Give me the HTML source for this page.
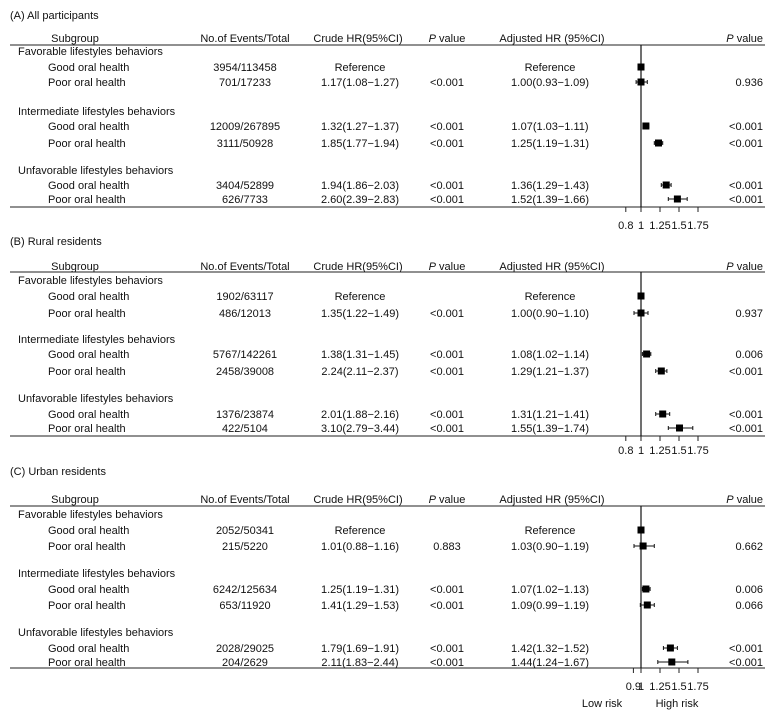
<!DOCTYPE html>
<html><head><meta charset="utf-8"><style>
body{margin:0;background:#fff}
svg text{font-family:"Liberation Sans",Arial,sans-serif;font-size:11px;fill:#111}
</style></head><body>
<svg id="c" width="781" height="713"></svg>
<script>
const panels=["(A) All participants","(B) Rural residents","(C) Urban residents"];
const groups=["Favorable lifestyles behaviors","Intermediate lifestyles behaviors","Unfavorable lifestyles behaviors"];
const events=[["3954/113458","701/17233","12009/267895","3111/50928","3404/52899","626/7733"],
["1902/63117","486/12013","5767/142261","2458/39008","1376/23874","422/5104"],
["2052/50341","215/5220","6242/125634","653/11920","2028/29025","204/2629"]];
const crude=[["Reference","1.17(1.08−1.27)","1.32(1.27−1.37)","1.85(1.77−1.94)","1.94(1.86−2.03)","2.60(2.39−2.83)"],
["Reference","1.35(1.22−1.49)","1.38(1.31−1.45)","2.24(2.11−2.37)","2.01(1.88−2.16)","3.10(2.79−3.44)"],
["Reference","1.01(0.88−1.16)","1.25(1.19−1.31)","1.41(1.29−1.53)","1.79(1.69−1.91)","2.11(1.83−2.44)"]];
const crudeP=[["","<0.001","<0.001","<0.001","<0.001","<0.001"],["","<0.001","<0.001","<0.001","<0.001","<0.001"],["","0.883","<0.001","<0.001","<0.001","<0.001"]];
const hr=[[1,1.00,1.07,1.25,1.36,1.52],[1,1.00,1.08,1.29,1.31,1.55],[1,1.03,1.07,1.09,1.42,1.44]];
const lo=[[1,0.93,1.03,1.19,1.29,1.39],[1,0.90,1.02,1.21,1.21,1.39],[1,0.90,1.02,0.99,1.32,1.24]];
const hi=[[1,1.09,1.11,1.31,1.43,1.66],[1,1.10,1.14,1.37,1.41,1.74],[1,1.19,1.13,1.19,1.52,1.67]];
const adjP=[["","0.936","<0.001","<0.001","<0.001","<0.001"],["","0.937","0.006","<0.001","<0.001","<0.001"],["","0.662","0.006","0.066","<0.001","<0.001"]];
const ticks=[[0.8,1,1.25,1.5,1.75],[0.8,1,1.25,1.5,1.75],[0.9,1,1.25,1.5,1.75]];
const layout=[{t:15,h:38,l:45,g:[51,111,170],r:[67,82,126,143,185,199],a:207,tl:225},
{t:241,h:266,l:272,g:[280,339,398],r:[296,313,354,371,414,428],a:436,tl:450},
{t:471,h:499,l:506,g:[514,573,632],r:[530,546,589,605,648,662],a:668,tl:686}];
const svg=document.getElementById('c');const NS="http://www.w3.org/2000/svg";
const X=v=>641+(v-1)*70;
const XT=v=>641+(v-1)*76;
function el(tag,attrs,name,txt){const e=document.createElementNS(NS,tag);for(const k in attrs)e.setAttribute(k,attrs[k]);


if(txt!==undefined)e.textContent=txt;svg.appendChild(e);return e;}
function T(x,y,s,name,anchor){return el('text',{x:x,y:y+4,'text-anchor':anchor||'start'},name,s);}
layout.forEach((L,p)=>{
 T(10,L.t,panels[p],'panel-title');
 T(75,L.h,'Subgroup','header-subgroup','middle');T(245,L.h,'No.of Events/Total','header-events','middle');
 T(358,L.h,'Crude HR(95%CI)','header-crude','middle');
 const pv=T(447,L.h,'','header-p','middle');pv.innerHTML='<tspan font-style="italic">P</tspan> value';
 T(552,L.h,'Adjusted HR (95%CI)','header-adjusted','middle');
 const pv2=T(763,L.h,'','header-adj-p','end');pv2.innerHTML='<tspan font-style="italic">P</tspan> value';
 el('line',{x1:10,x2:765,y1:L.l,y2:L.l,stroke:'#222','stroke-width':1},'header-rule');
 el('line',{x1:10,x2:765,y1:L.a,y2:L.a,stroke:'#222','stroke-width':1},'x-axis');
 el('line',{x1:X(1),x2:X(1),y1:L.l,y2:L.a,stroke:'#111','stroke-width':1.2},'reference-line');
 ticks[p].forEach(t=>{el('line',{x1:XT(t),x2:XT(t),y1:L.a,y2:L.a+5,stroke:'#222'},'x-tick');T(XT(t),L.tl,String(t),'x-tick-label','middle');});
 groups.forEach((g,i)=>T(18,L.g[i],g,'group-label'));
 L.r.forEach((y,i)=>{
  T(48,y,i%2==0?'Good oral health':'Poor oral health','row-label');
  T(245,y,events[p][i],'events-value','middle');
  T(360,y,crude[p][i],'crude-hr','middle');
  T(447,y,crudeP[p][i],'crude-p','middle');
  T(550,y,i==0?'Reference':hr[p][i].toFixed(2)+'('+lo[p][i].toFixed(2)+'−'+hi[p][i].toFixed(2)+')','adjusted-hr','middle');
  T(763,y,adjP[p][i],'adjusted-p','end');
  if(i>0){el('line',{x1:X(lo[p][i]),x2:X(hi[p][i]),y1:y,y2:y,stroke:'#111'},'ci-line');
   el('line',{x1:X(lo[p][i]),x2:X(lo[p][i]),y1:y-2,y2:y+2,stroke:'#111'},'ci-cap');
   el('line',{x1:X(hi[p][i]),x2:X(hi[p][i]),y1:y-2,y2:y+2,stroke:'#111'},'ci-cap');}
  el('rect',{x:X(hr[p][i])-3.5,y:y-3.5,width:7,height:7,fill:'#000'},'hr-point');
 });
});
T(602,703,'Low risk','low-risk-label','middle');T(677,703,'High risk','high-risk-label','middle');
</script>
</body></html>
